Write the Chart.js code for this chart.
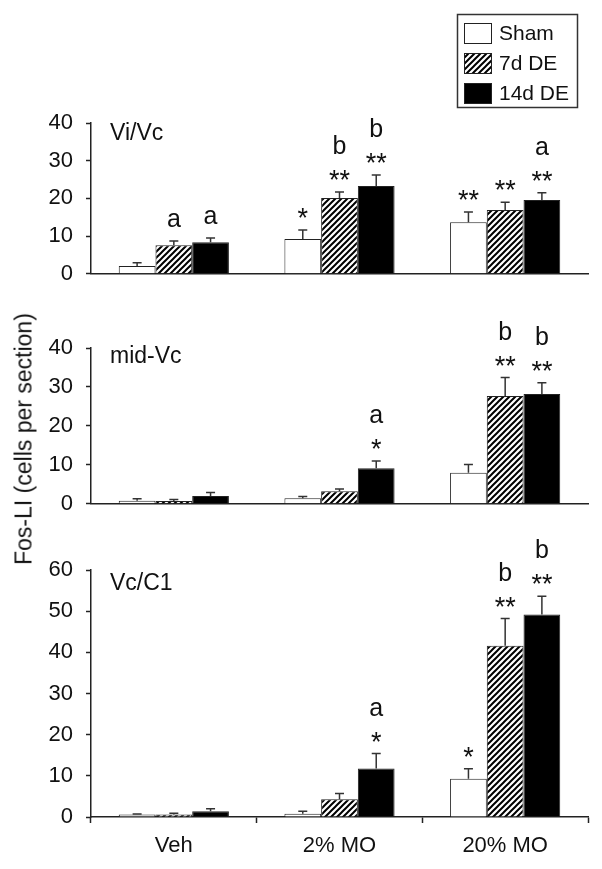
<!DOCTYPE html>
<html>
<head>
<meta charset="utf-8">
<script src="https://cdn.jsdelivr.net/npm/chart.js@4.4.1/dist/chart.umd.min.js"></script>
<style>
  body { margin: 0; background: #fff; width: 602px; height: 869px; position: relative; overflow: hidden; font-family: "Liberation Sans", Arial, sans-serif; }
  .panel { position: absolute; left: 0; width: 602px; }
  #yTitle { position: absolute; left: 24px; top: 439px; transform: translate(-50%, -50%) rotate(-90deg); white-space: nowrap; font-size: 23px; color: #111; }
</style>
</head>
<body>
<div class="panel" style="top:0;height:300px"><canvas id="viVc"></canvas></div>
<div class="panel" style="top:300px;height:230px"><canvas id="midVc"></canvas></div>
<div class="panel" style="top:530px;height:339px"><canvas id="vcC1"></canvas></div>
<div id="yTitle">Fos-LI (cells per section)</div>
<script>
const groups = ["Veh", "2% MO", "20% MO"];
const seriesNames = ["Sham", "7d DE", "14d DE"];

// Vi/Vc
const viVcSham = [2.1, 9.2, 13.7];
const viVc7d = [7.6, 20.1, 16.9];
const viVc14d = [8.4, 23.3, 19.6];
const viVcShamErr = [0.8, 2.4, 2.7];
const viVc7dErr = [1.1, 1.6, 2.1];
const viVc14dErr = [1.1, 2.9, 1.9];
const viVcStars = [["", "*", "**"], ["", "**", "**"], ["", "**", "**"]];
const viVcLetters = [["", "", ""], ["a", "b", ""], ["a", "b", "a"]];

// mid-Vc
const midVcSham = [0.8, 1.4, 8.0];
const midVc7d = [0.7, 3.2, 27.7];
const midVc14d = [2.0, 9.1, 28.2];
const midVcShamErr = [0.5, 0.5, 2.1];
const midVc7dErr = [0.4, 0.6, 4.7];
const midVc14dErr = [0.9, 1.9, 2.9];
const midVcStars = [["", "", ""], ["", "", "**"], ["", "*", "**"]];
const midVcLetters = [["", "", ""], ["", "", "b"], ["", "a", "b"]];

// Vc/C1
const vcC1Sham = [0.6, 0.8, 9.3];
const vcC17d = [0.6, 4.3, 41.6];
const vcC114d = [1.4, 11.8, 49.2];
const vcC1ShamErr = [0.1, 0.6, 2.4];
const vcC17dErr = [0.3, 1.4, 6.6];
const vcC114dErr = [0.6, 3.6, 4.4];
const vcC1Stars = [["", "", "*"], ["", "", "**"], ["", "*", "**"]];
const vcC1Letters = [["", "", ""], ["", "", "b"], ["", "a", "b"]];

const FONT = "'Liberation Sans', Arial, sans-serif";
Chart.defaults.font.family = FONT;
Chart.defaults.font.size = 22;
Chart.defaults.color = "#111";

function hatch(ctx) {
  const c = document.createElement("canvas");
  c.width = 6; c.height = 6;
  const g = c.getContext("2d");
  g.fillStyle = "#fff";
  g.fillRect(0, 0, 6, 6);
  g.strokeStyle = "#000";
  g.lineWidth = 2;
  g.beginPath();
  g.moveTo(-1, 7); g.lineTo(7, -1);
  g.moveTo(-1, 1); g.lineTo(1, -1);
  g.moveTo(5, 7); g.lineTo(7, 5);
  g.stroke();
  return ctx.createPattern(c, "repeat");
}

// error bars, stars and letters above each bar
const errorMarks = {
  id: "errorMarks",
  afterDatasetsDraw(chart) {
    const ctx = chart.ctx;
    const y = chart.scales.y;
    ctx.save();
    chart.data.datasets.forEach((ds, i) => {
      chart.getDatasetMeta(i).data.forEach((bar, j) => {
        const top = y.getPixelForValue(ds.data[j] + ds.errors[j]);
        ctx.strokeStyle = "#333";
        ctx.lineWidth = 1.5;
        ctx.beginPath();
        ctx.moveTo(bar.x, bar.y);
        ctx.lineTo(bar.x, top);
        ctx.moveTo(bar.x - 4.5, top);
        ctx.lineTo(bar.x + 4.5, top);
        ctx.stroke();
        ctx.fillStyle = "#111";
        ctx.textAlign = "center";
        ctx.textBaseline = "alphabetic";
        let letterY = top - 14;
        if (ds.stars[j]) {
          const sy = top - 3;
          ctx.font = "27px " + FONT;
          ctx.fillText(ds.stars[j], bar.x, sy);
          letterY = sy - 35;
        }
        if (ds.letters[j]) {
          ctx.font = "25px " + FONT;
          ctx.fillText(ds.letters[j], bar.x, letterY);
        }
      });
    });
    ctx.restore();
  },
  afterDraw(chart, args, opts) {
    const ctx = chart.ctx;
    const y = chart.scales.y;
    const a = chart.chartArea;
    ctx.save();
    // short minor ticks
    ctx.strokeStyle = "#222";
    ctx.lineWidth = 1.5;
    y.ticks.forEach(t => {
      if (t.value % 10 !== 0) {
        const py = Math.round(y.getPixelForValue(t.value)) + 0.5;
        ctx.beginPath();
        ctx.moveTo(a.left - 3, py);
        ctx.lineTo(a.left, py);
        ctx.stroke();
      }
    });
    // panel name
    ctx.fillStyle = "#111";
    ctx.font = "23px " + FONT;
    ctx.textAlign = "left";
    ctx.textBaseline = "middle";
    ctx.fillText(opts.name, 110, a.top + opts.nameDy);
    // legend box
    if (opts.legend) {
      ctx.strokeStyle = "#333";
      ctx.lineWidth = 1.5;
      ctx.strokeRect(457.5, 14.5, 120, 93);
      chart.data.datasets.forEach((ds, i) => {
        const ly = 23 + i * 30;
        ctx.fillStyle = ds.backgroundColor;
        ctx.fillRect(464, ly, 27, 20);
        ctx.strokeStyle = "#222";
        ctx.lineWidth = 1;
        ctx.strokeRect(464.5, ly + 0.5, 27, 20);
        ctx.fillStyle = "#111";
        ctx.font = "21px " + FONT;
        ctx.fillText(ds.label, 499, ly + 11);
      });
    }
    ctx.restore();
  }
};

function buildPanel(id, vals, errs, stars, letters, yMax, opts) {
  const ctx = document.getElementById(id).getContext("2d");
  const fills = ["#fff", hatch(ctx), "#000"];
  return new Chart(ctx, {
    type: "bar",
    data: {
      labels: groups,
      datasets: seriesNames.map((name, i) => ({
        label: name,
        data: vals[i],
        errors: errs[i],
        stars: stars[i],
        letters: letters[i],
        backgroundColor: fills[i],
        borderColor: "#222",
        borderWidth: 1,
        borderSkipped: "bottom",
        categoryPercentage: 0.665,
        barPercentage: 1.0,
      })),
    },
    options: {
      responsive: true,
      maintainAspectRatio: false,
      animation: false,
      layout: { padding: { top: opts.padTop, bottom: opts.padBottom, right: 14, left: 0 } },
      plugins: {
        legend: { display: false },
        tooltip: { enabled: false },
        errorMarks: { name: opts.name, nameDy: opts.nameDy, legend: opts.legend },
      },
      scales: {
        x: {
          offset: true,
          grid: {
            display: opts.xLabels,
            offset: true,
            drawOnChartArea: false,
            drawTicks: opts.xLabels,
            tickLength: 6,
            tickWidth: 1.5,
            tickColor: "#222",
          },
          border: { display: true, color: "#222", width: 1.5 },
          ticks: { display: opts.xLabels, font: { size: 22 }, padding: 10, color: "#111" },
          afterFit: s => { s.height = opts.xLabels ? 52 : 0; },
        },
        y: {
          min: 0,
          max: yMax,
          grid: {
            drawOnChartArea: false,
            tickLength: 5,
            tickWidth: 1.5,
            tickColor: c => (c.tick && c.tick.value % 10 === 0 ? "#222" : "rgba(0,0,0,0)"),
          },
          border: { display: true, color: "#222", width: 1.5 },
          ticks: {
            stepSize: 5,
            padding: 13,
            color: "#111",
            callback: v => (v % 10 === 0 ? v : ""),
          },
          afterFit: s => { s.width = 91; },
        },
      },
    },
    plugins: [errorMarks],
  });
}

buildPanel("viVc", [viVcSham, viVc7d, viVc14d], [viVcShamErr, viVc7dErr, viVc14dErr],
  viVcStars, viVcLetters, 40,
  { padTop: 123, padBottom: 13, xLabels: false, name: "Vi/Vc", nameDy: 11, legend: true });
buildPanel("midVc", [midVcSham, midVc7d, midVc14d], [midVcShamErr, midVc7dErr, midVc14dErr],
  midVcStars, midVcLetters, 40,
  { padTop: 48, padBottom: 18, xLabels: false, name: "mid-Vc", nameDy: 9, legend: false });
buildPanel("vcC1", [vcC1Sham, vcC17d, vcC114d], [vcC1ShamErr, vcC17dErr, vcC114dErr],
  vcC1Stars, vcC1Letters, 60,
  { padTop: 40, padBottom: 0, xLabels: true, name: "Vc/C1", nameDy: 14, legend: false });
</script>
</body>
</html>
